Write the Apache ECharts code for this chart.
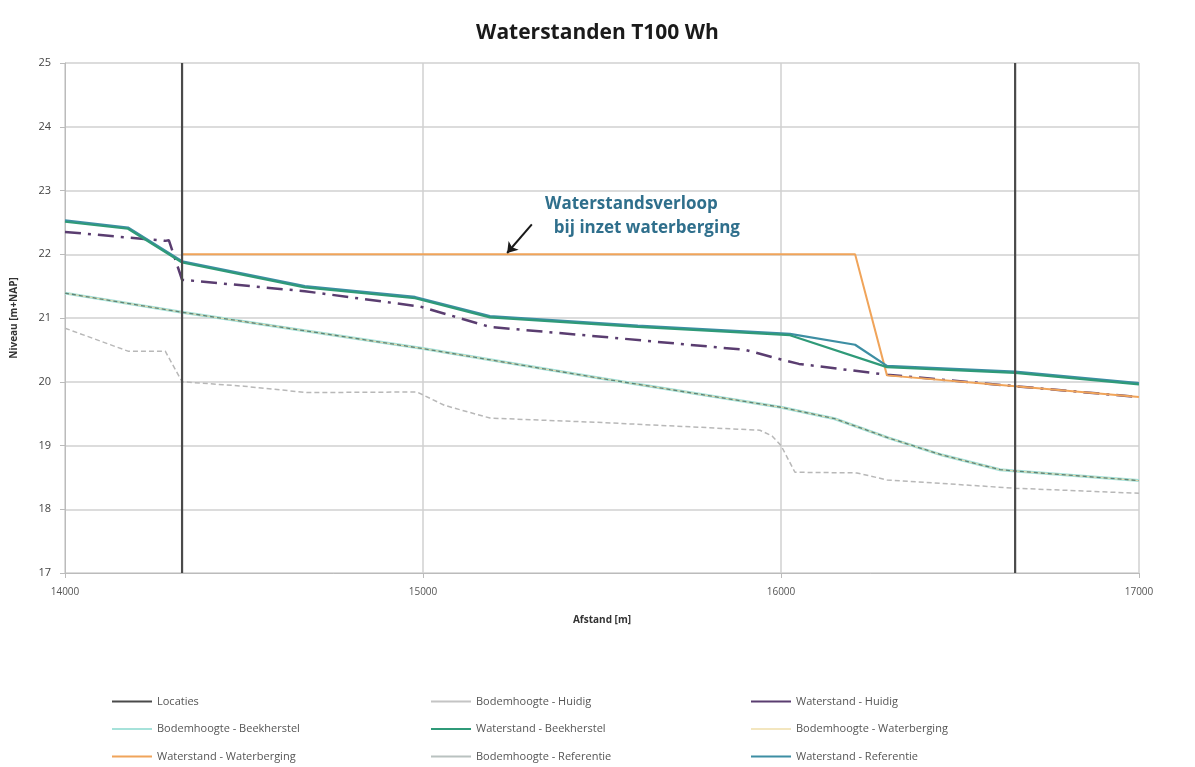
<!DOCTYPE html>
<html>
<head>
<meta charset="utf-8">
<title>Waterstanden T100 Wh</title>
<script src="https://cdn.jsdelivr.net/npm/echarts@6/dist/echarts.min.js"></script>
<style>
  html, body { margin: 0; padding: 0; background: #fff; }
  #chart { width: 1195px; height: 767px; }
</style>
</head>
<body>
<div id="chart"></div>
<script>
// afstand [m] and niveau [m+NAP]
var locaties = [14327, 16654];

var bodemHuidigX = [14000, 14176, 14280, 14327, 14500, 14676, 14983, 15060, 15187, 15500, 15941, 15975, 16000, 16039, 16212, 16296, 16654, 17000];
var bodemHuidigY = [20.84, 20.48, 20.48, 20.00, 19.93, 19.83, 19.84, 19.63, 19.43, 19.36, 19.24, 19.15, 19.00, 18.58, 18.57, 18.46, 18.33, 18.25];

var bodemX = [14000, 14327, 14670, 15000, 15500, 16000, 16150, 16300, 16450, 16612, 16654, 17000];
var bodemBeekY = [21.39, 21.09, 20.80, 20.52, 20.05, 19.60, 19.42, 19.12, 18.85, 18.62, 18.60, 18.45];
var bodemBergingY = [21.39, 21.09, 20.80, 20.52, 20.05, 19.60, 19.42, 19.12, 18.85, 18.62, 18.60, 18.45];
var bodemRefY = [21.39, 21.09, 20.80, 20.52, 20.05, 19.60, 19.42, 19.12, 18.85, 18.62, 18.60, 18.45];

var wsHuidigX = [14000, 14280, 14290, 14327, 14670, 14992, 15187, 15550, 15900, 16000, 16050, 16296, 16654, 17000];
var wsHuidigY = [22.35, 22.21, 22.22, 21.60, 21.42, 21.18, 20.86, 20.68, 20.50, 20.35, 20.28, 20.11, 19.93, 19.76];

var wsBeekX = [14000, 14176, 14327, 14670, 14978, 15187, 15600, 16000, 16025, 16296, 16654, 17000];
var wsBeekY = [22.51, 22.40, 21.87, 21.48, 21.31, 21.01, 20.86, 20.74, 20.73, 20.23, 20.14, 19.96];

var wsRefX = [14000, 14176, 14327, 14670, 14978, 15187, 15600, 16000, 16025, 16207, 16296, 16654, 17000];
var wsRefY = [22.53, 22.42, 21.89, 21.50, 21.33, 21.03, 20.88, 20.76, 20.75, 20.58, 20.25, 20.16, 19.98];

var wsBergingX = [14327, 16207, 16296, 16654, 17000];
var wsBergingY = [22.00, 22.00, 20.10, 19.93, 19.76];

var pijl = [[15304, 22.47], [15235, 22.02]];

function zip(xs, ys) {
  return xs.map(function (x, i) { return [x, ys[i]]; });
}

var locData = [];
locaties.forEach(function (x, i) {
  if (i > 0) locData.push([x, '-']);
  locData.push([x, 17], [x, 25]);
});

var legendText = { fontSize: 11, color: '#555', fontFamily: 'Open Sans' };
function legendCol(left, names) {
  return {
    orient: 'vertical', left: left, top: 691, itemWidth: 40, itemHeight: 12,
    itemGap: 16.5, textStyle: legendText, data: names.map(function (n) { return { name: n, icon: 'path://M0,0H40V2H0Z' }; })
  };
}

var chart = echarts.init(document.getElementById('chart'), null, { renderer: 'canvas' });
chart.setOption({
  backgroundColor: '#fff',
  animation: false,
  title: {
    text: 'Waterstanden T100 Wh', left: 'center', top: 18,
    textStyle: { fontSize: 21, fontWeight: 'bold', color: '#1a1a1a', fontFamily: 'Open Sans' }
  },
  grid: { left: 65, right: 56, top: 63, bottom: 194 },
  xAxis: {
    type: 'value', min: 14000, max: 17000, interval: 1000,
    name: 'Afstand [m]', nameLocation: 'middle', nameGap: 42,
    nameTextStyle: { fontSize: 10, fontWeight: 'bold', color: '#333', fontFamily: 'Open Sans' },
    axisLine: { lineStyle: { color: '#bbb' } },
    axisTick: { show: true, length: 5, lineStyle: { color: '#bbb' } },
    axisLabel: { fontSize: 10, color: '#555', margin: 14, fontFamily: 'Open Sans', formatter: function (v) { return String(v); } },
    splitLine: { show: true, lineStyle: { color: '#d0d0d0', width: 1.5 } }
  },
  yAxis: {
    type: 'value', min: 17, max: 25, interval: 1,
    name: 'Niveau [m+NAP]', nameLocation: 'middle', nameGap: 46,
    nameTextStyle: { fontSize: 10, fontWeight: 'bold', color: '#333', fontFamily: 'Open Sans' },
    axisLine: { show: true, lineStyle: { color: '#bbb' } },
    axisTick: { show: true, length: 5, lineStyle: { color: '#bbb' } },
    axisLabel: { fontSize: 11, color: '#444', margin: 14, fontFamily: 'Open Sans' },
    splitLine: { show: true, lineStyle: { color: '#d0d0d0', width: 1.5 } }
  },
  legend: [
    legendCol(107, ['Locaties', 'Bodemhoogte - Beekherstel', 'Waterstand - Waterberging']),
    legendCol(426, ['Bodemhoogte - Huidig', 'Waterstand - Beekherstel', 'Bodemhoogte - Referentie']),
    legendCol(746, ['Waterstand - Huidig', 'Bodemhoogte - Waterberging', 'Waterstand - Referentie'])
  ],
  graphic: [{
    type: 'text', left: 545, top: 192,
    style: {
      text: 'Waterstandsverloop\n  bij inzet waterberging', fill: '#2f6f8c',
      font: 'bold 17px "Open Sans"', lineHeight: 24
    }
  }],
  series: [
    {
      name: 'Bodemhoogte - Huidig', type: 'line', showSymbol: false, data: zip(bodemHuidigX, bodemHuidigY),
      color: '#c4c4c4', lineStyle: { width: 1.5, type: [5, 3], color: '#b8b8b8' }
    },
    {
      name: 'Bodemhoogte - Beekherstel', type: 'line', showSymbol: false, data: zip(bodemX, bodemBeekY),
      color: '#a6e2da', lineStyle: { width: 3, color: '#a6e2da' }
    },
    {
      name: 'Bodemhoogte - Waterberging', type: 'line', showSymbol: false, data: zip(bodemX, bodemBergingY),
      color: '#f3e6bf', lineStyle: { width: 1, color: '#e6d8a8' }
    },
    {
      name: 'Bodemhoogte - Referentie', type: 'line', showSymbol: false, data: zip(bodemX, bodemRefY),
      color: '#b9c2c0', lineStyle: { width: 1.3, type: [4, 3], color: '#5f8578' }
    },
    {
      name: 'Waterstand - Huidig', type: 'line', showSymbol: false, data: zip(wsHuidigX, wsHuidigY),
      color: '#5a3d70', lineStyle: { width: 2.5, type: [16, 7, 3, 7], color: '#5a3d70' }
    },
    {
      name: 'Waterstand - Waterberging', type: 'line', showSymbol: false, data: zip(wsBergingX, wsBergingY),
      color: '#f0a45a', lineStyle: { width: 2, color: '#f0a45a' }
    },
    {
      name: 'Waterstand - Referentie', type: 'line', showSymbol: false, data: zip(wsRefX, wsRefY),
      color: '#3d8ea3', lineStyle: { width: 2.2, color: '#3d8ea3' }
    },
    {
      name: 'Waterstand - Beekherstel', type: 'line', showSymbol: false, data: zip(wsBeekX, wsBeekY),
      color: '#2f9a78', lineStyle: { width: 2.2, color: '#2f9a78' },
      markLine: {
        silent: true, symbol: ['none', 'arrow'], symbolSize: 10,
        lineStyle: { color: '#1a1a1a', width: 2, type: 'solid' }, label: { show: false },
        data: [[{ coord: pijl[0] }, { coord: pijl[1] }]]
      }
    },
    {
      name: 'Locaties', type: 'line', showSymbol: false, data: locData, connectNulls: false,
      color: '#4a4a4a', lineStyle: { width: 2.2, color: '#4a4a4a' }
    }
  ]
});
</script>
</body>
</html>
